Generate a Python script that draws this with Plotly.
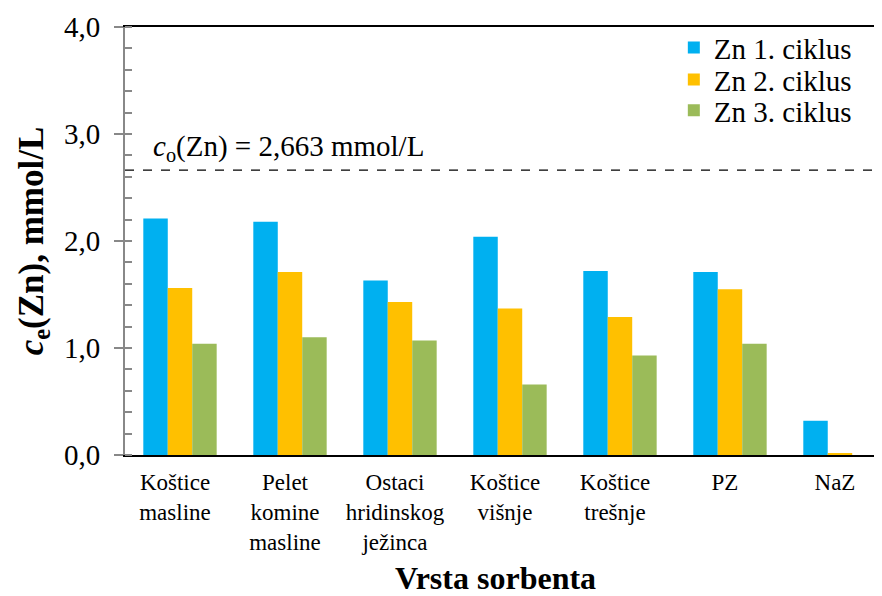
import plotly.graph_objects as go

categories = ["Koštice<br>masline", "Pelet<br>komine<br>masline", "Ostaci<br>hridinskog<br>ježinca",
              "Koštice<br>višnje", "Koštice<br>trešnje", "PZ", "NaZ"]
series_names = ["Zn 1. ciklus", "Zn 2. ciklus", "Zn 3. ciklus"]
zn1 = [2.21, 2.18, 1.63, 2.04, 1.72, 1.71, 0.32]
zn2 = [1.56, 1.71, 1.43, 1.37, 1.29, 1.55, 0.01]
zn3 = [1.04, 1.10, 1.07, 0.66, 0.93, 1.04, 0.0]
c0 = 2.663
colors = ["#00B0F0", "#FFC000", "#9BBB59"]

FONT = "Times New Roman, Liberation Serif, Times, serif"
legend_ids = ["legend", "legend2", "legend3"]
legend_y = [0.952, 0.877, 0.805]

fig = go.Figure()
for name, vals, col, lid in zip(series_names, [zn1, zn2, zn3], colors, legend_ids):
    fig.add_trace(go.Bar(x=list(range(len(categories))), y=vals, name=name, legend=lid,
                         marker=dict(color=col, line=dict(width=0))))
# helper trace so the overlay axis (inner half of the major ticks) is drawn
fig.add_trace(go.Scatter(x=[None], y=[None], yaxis="y2", showlegend=False, hoverinfo="skip"))

fig.add_shape(type="line", xref="paper", x0=0, x1=1, yref="y", y0=c0, y1=c0,
              line=dict(color="black", width=1.2, dash="dash"))
fig.add_annotation(xref="paper", x=0.035, yref="y", y=c0, xanchor="left", yanchor="bottom",
                   yshift=2, showarrow=False,
                   text="<i>c</i><sub>o</sub>(Zn) = 2,663 mmol/L",
                   font=dict(family=FONT, size=29, color="black"))

leg_common = dict(xanchor="left", yanchor="middle", bgcolor="rgba(0,0,0,0)",
                  font=dict(family=FONT, size=29, color="black"), itemwidth=30)
layout_legends = {}
for lid, ly in zip(legend_ids, legend_y):
    layout_legends[lid] = dict(x=0.725, y=ly, **leg_common)

fig.update_layout(
    width=874, height=588,
    margin=dict(l=117, r=0, t=19, b=141),
    paper_bgcolor="white", plot_bgcolor="white",
    barmode="group", bargap=0.333, bargroupgap=0,
    separators=", ",
    font=dict(family=FONT, size=24, color="black"),
    showlegend=True,
    yaxis2=dict(overlaying="y", side="left", range=[0, 4], dtick=1, ticks="inside", ticklen=7,
                tickwidth=2, tickcolor="#888888", showticklabels=False, showline=False,
                showgrid=False, zeroline=False),
    **layout_legends,
)
fig.update_xaxes(range=[-0.5, 6.382], tickmode="array", tickvals=list(range(len(categories))),
                 ticktext=categories, showline=True, linecolor="black", linewidth=1.5,
                 mirror=True, ticks="", showgrid=False, zeroline=False,
                 ticklabelstandoff=6, ticklabelshift=-5,
                 tickfont=dict(family=FONT, size=23, color="black"),
                 title=dict(text="<b>Vrsta sorbenta</b>&nbsp;&nbsp;",
                            font=dict(family=FONT, size=32, color="black"), standoff=14))
fig.update_yaxes(selector=dict(overlaying=None), range=[0, 4], dtick=1, tickformat=".1f", showline=True,
                 linecolor="#888888", linewidth=2, ticks="outside", ticklen=9, tickcolor="#888888",
                 tickwidth=2,
                 minor=dict(dtick=0.2, ticks="inside", ticklen=7, tickcolor="#888888", tickwidth=1.5),
                 ticklabelstandoff=8,
                 showgrid=False, zeroline=False, tickfont=dict(family=FONT, size=29, color="black"),
                 title=dict(text="<b><i>c</i><sub>e</sub>(Zn), mmol/L</b>",
                            font=dict(family=FONT, size=35, color="black"), standoff=10))

fig.write_html("out.html")
